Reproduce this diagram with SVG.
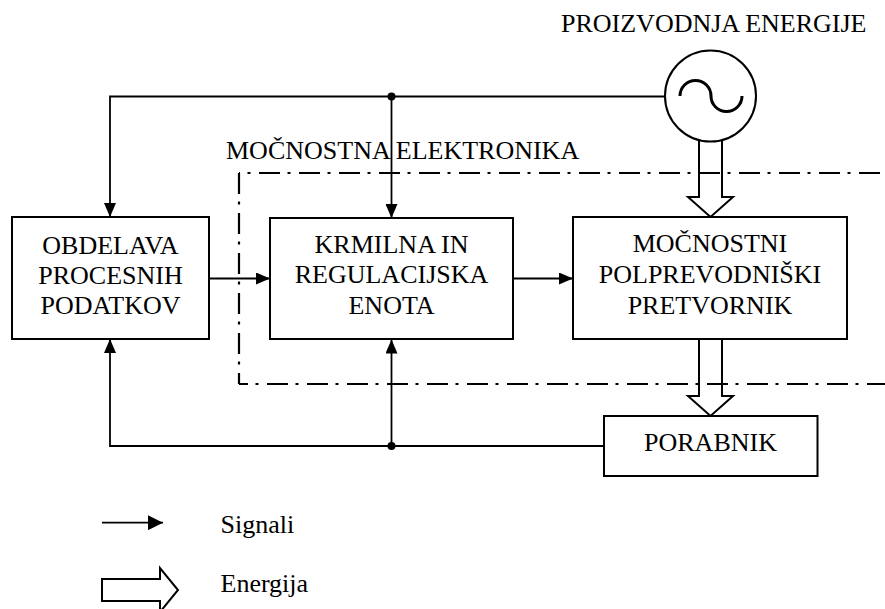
<svg xmlns="http://www.w3.org/2000/svg" width="885" height="609" viewBox="0 0 885 609">
<style>
  text { font-family: "Times New Roman", "Liberation Serif", Times, "DejaVu Serif", serif; font-size: 26px; fill: #000; }
  .c { text-anchor: middle; }
  .box { fill: #fff; stroke: #000; stroke-width: 2; }
  .sig { fill: none; stroke: #000; stroke-width: 1.8; }
  .en { fill: #fff; stroke: #000; stroke-width: 2; stroke-linejoin: miter; }
  .dd { fill: none; stroke: #000; stroke-width: 2.2; stroke-dasharray: 21 7.5 3 8.5; }
</style>
<defs>
  <marker id="ah" markerUnits="userSpaceOnUse" markerWidth="14" markerHeight="12" refX="14" refY="6" orient="auto">
    <path d="M0,0 L14,6 L0,12 Z" fill="#000"/>
  </marker>
  <marker id="ahL" markerUnits="userSpaceOnUse" markerWidth="15" markerHeight="15" refX="15" refY="7.5" orient="auto">
    <path d="M0,0 L15,7.5 L0,15 Z" fill="#000"/>
  </marker>
</defs>
<rect width="885" height="609" fill="#fff"/>

<g id="connectors">
  <path class="sig" d="M665,96.5 H110 V217" marker-end="url(#ah)"/>
  <path class="sig" d="M391.5,96.5 V218" marker-end="url(#ah)"/>
  <path class="sig" d="M209,278.5 H270" marker-end="url(#ah)"/>
  <path class="sig" d="M513,278.5 H573" marker-end="url(#ah)"/>
  <path class="sig" d="M604,446 H110 V339" marker-end="url(#ah)"/>
  <path class="sig" d="M391.5,446 V339.5" marker-end="url(#ah)"/>
  <circle cx="391.5" cy="96.5" r="4" fill="#000"/>
  <circle cx="391.5" cy="446" r="4" fill="#000"/>
  <path class="en" d="M699,135 V197 H688 L710.5,217 L733,197 H722 V135"/>
  <path class="en" d="M699,339.5 V396 H688 L710.5,416 L733,396 H722 V339.5"/>
</g>

<g id="power-electronics-frame">
  <path class="dd" d="M239,173 H885" stroke-dashoffset="20"/>
  <path class="dd" d="M239,173 V384"/>
  <path class="dd" d="M239,384 H885" stroke-dashoffset="12"/>
  <text x="226" y="159">MOČNOSTNA ELEKTRONIKA</text>
</g>

<g id="generator">
  <circle cx="710.5" cy="96" r="45.5" fill="#fff" stroke="#000" stroke-width="2"/>
  <path d="M680,96 A15.5,15.5 0 0 1 711,96 A15.5,15.5 0 0 0 742,96" fill="none" stroke="#000" stroke-width="3"/>
  <text x="561" y="32">PROIZVODNJA ENERGIJE</text>
</g>

<g id="obdelava">
  <rect class="box" x="12" y="217" width="197" height="122"/>
  <text class="c" x="110.5" y="254">OBDELAVA<tspan x="110.5" dy="30.2">PROCESNIH</tspan><tspan x="110.5" dy="30.2">PODATKOV</tspan></text>
</g>

<g id="krmilna">
  <rect class="box" x="270" y="218" width="243" height="121"/>
  <text class="c" x="391.5" y="252.5">KRMILNA IN<tspan x="391.5" dy="30.8">REGULACIJSKA</tspan><tspan x="391.5" dy="30.8">ENOTA</tspan></text>
</g>

<g id="pretvornik">
  <rect class="box" x="573" y="217" width="274" height="122"/>
  <text class="c" x="710" y="252">MOČNOSTNI<tspan x="710" dy="31.2">POLPREVODNIŠKI</tspan><tspan x="710" dy="31.2">PRETVORNIK</tspan></text>
</g>

<g id="porabnik">
  <rect class="box" x="604" y="416" width="213.5" height="60"/>
  <text class="c" x="710.5" y="450.5">PORABNIK</text>
</g>

<g id="legend">
  <path class="sig" d="M102,522.7 H163" marker-end="url(#ahL)"/>
  <text x="220.5" y="533">Signali</text>
  <path class="en" d="M102,579 H160 V568 L178,590 L160,612 V601 H102 Z"/>
  <text x="220.5" y="592">Energija</text>
</g>
</svg>
